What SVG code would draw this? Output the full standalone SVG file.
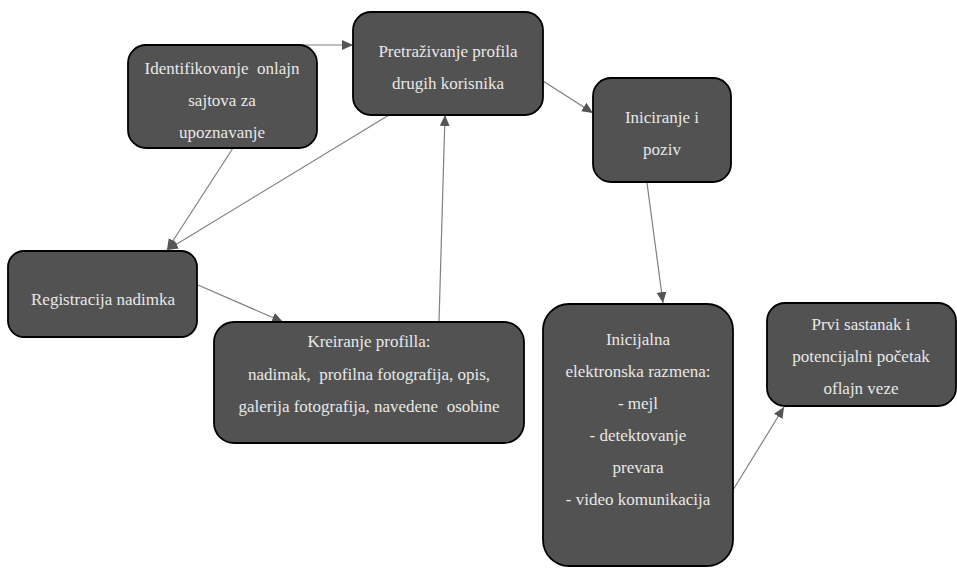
<svg xmlns="http://www.w3.org/2000/svg" width="957" height="568" viewBox="0 0 957 568">
<style>
.box{fill:#525252;stroke:#000;stroke-width:1.8}
.t{font-size:17px;fill:#e8e8e8;text-anchor:middle;white-space:pre}
.c{stroke:#808080;stroke-width:1.2;fill:none;marker-end:url(#ah)}
</style>
<defs>
<marker id="ah" markerUnits="userSpaceOnUse" markerWidth="12" markerHeight="10" refX="11" refY="5" orient="auto">
<path d="M0,0 L11,5 L0,10 z" fill="#555"/>
</marker>
</defs>
<rect width="957" height="568" fill="#fff"/>
<g id="connectors">
<line class="c" x1="298" y1="45" x2="353" y2="45"/>
<line class="c" x1="233" y1="148" x2="167" y2="250"/>
<line class="c" x1="389" y1="115" x2="167" y2="250"/>
<line class="c" x1="198" y1="285" x2="283" y2="322"/>
<line class="c" x1="439" y1="322" x2="445" y2="115"/>
<line class="c" x1="543" y1="81" x2="593" y2="113"/>
<line class="c" x1="647" y1="183" x2="663" y2="303"/>
<line class="c" x1="733" y1="490" x2="784" y2="407"/>
</g>
<g font-family="'Liberation Serif', 'DejaVu Serif', serif">
<g id="identifikovanje">
<rect class="box" x="128" y="45" width="189" height="103" rx="18"/>
<text class="t" x="222" y="74">Identifikovanje  onlajn</text>
<text class="t" x="222" y="106">sajtova za</text>
<text class="t" x="222" y="138">upoznavanje</text>
</g>
<g id="pretrazivanje">
<rect class="box" x="353" y="12" width="190" height="103" rx="18"/>
<text class="t" x="448" y="57">Pretraživanje profila</text>
<text class="t" x="448" y="89">drugih korisnika</text>
</g>
<g id="iniciranje">
<rect class="box" x="593" y="78" width="138" height="104" rx="18"/>
<text class="t" x="662" y="123">Iniciranje i</text>
<text class="t" x="662" y="155">poziv</text>
</g>
<g id="registracija">
<rect class="box" x="8" y="251" width="189" height="86" rx="16"/>
<text class="t" x="103" y="305">Registracija nadimka</text>
</g>
<g id="kreiranje">
<rect class="box" x="214" y="322" width="310" height="121" rx="20"/>
<text class="t" x="369" y="347">Kreiranje profilla:</text>
<text class="t" x="369" y="380">nadimak,  profilna fotografija, opis,</text>
<text class="t" x="369" y="412">galerija fotografija, navedene  osobine</text>
</g>
<g id="inicijalna">
<rect class="box" x="543" y="304" width="190" height="262" rx="26"/>
<text class="t" x="638" y="345">Inicijalna</text>
<text class="t" x="638" y="377">elektronska razmena:</text>
<text class="t" x="638" y="409">- mejl</text>
<text class="t" x="638" y="441">- detektovanje</text>
<text class="t" x="638" y="473">prevara</text>
<text class="t" x="638" y="505">- video komunikacija</text>
</g>
<g id="prvi-sastanak">
<rect class="box" x="767" y="303" width="189" height="103" rx="18"/>
<text class="t" x="861" y="330">Prvi sastanak i</text>
<text class="t" x="861" y="362">potencijalni početak</text>
<text class="t" x="861" y="394">oflajn veze</text>
</g>
</g>
</svg>
